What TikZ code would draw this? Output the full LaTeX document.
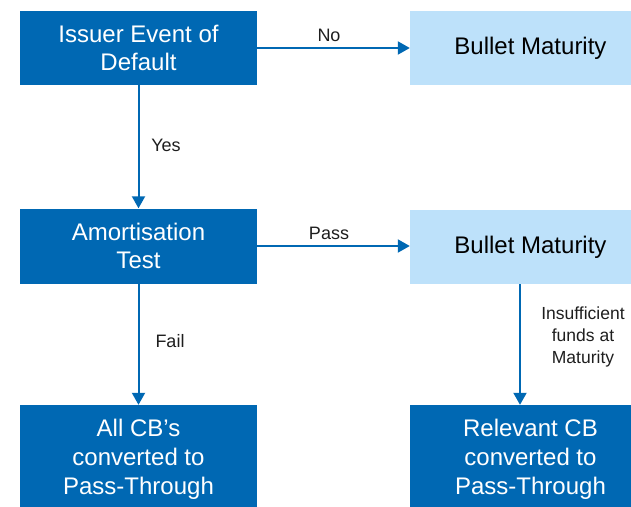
\documentclass[tikz,border=0pt]{standalone}
\usepackage{fontspec}
\setmainfont{Liberation Sans}
\usetikzlibrary{arrows.meta}
\definecolor{darkbox}{HTML}{0068B3}
\definecolor{lightbox}{HTML}{BDE1FA}
\definecolor{labeltext}{HTML}{1E1E1E}
\begin{document}
\begin{tikzpicture}[x=1pt,y=-1pt,
  boxtext/.style={align=center,font=\fontsize{24}{28}\selectfont,inner sep=0pt,draw=none},
  darkstep/.style={boxtext,fill=darkbox,text=white,minimum width=237pt},
  lightstep/.style={boxtext,fill=lightbox,text=black,minimum width=241pt},
  darkright/.style={boxtext,fill=darkbox,text=white,minimum width=241pt},
  flow/.style={draw=darkbox,line width=2pt,-{Triangle[width=13pt,length=12pt]}},
  flowlabel/.style={text=labeltext,font=\fontsize{18}{22}\selectfont,align=center,inner sep=0pt}]
\useasboundingbox (0,0) rectangle (631,506);
% first row
\node[darkstep,minimum height=74pt] (ieod) at (138.5,48) {Issuer Event of\\Default};
\node[lightstep,minimum height=74pt] (bm1) at (530.5,48) {Bullet Maturity};
% second row
\node[darkstep,minimum height=75pt] (amort) at (138.5,246) {Amortisation\\Test};
\node[lightstep,minimum height=74pt] (bm2) at (530.5,247) {Bullet Maturity};
% third row (runs past the lower edge)
\node[darkstep,minimum height=108pt,font=\fontsize{24}{29}\selectfont] (allcb) at (138.5,459) {All CB’s\\converted to\\Pass-Through};
\node[darkright,minimum height=108pt,font=\fontsize{24}{29}\selectfont] (relcb) at (530.5,459) {Relevant CB\\converted to\\Pass-Through};
% connectors
\draw[flow] (ieod) -- (bm1);
\draw[flow] (ieod) -- (amort);
\draw[flow] (amort.east) -- (amort.east -| bm2.west);
\draw[flow] (amort) -- (allcb);
\draw[flow] ([xshift=-10.5pt]bm2.south) -- ([xshift=-10.5pt]relcb.north);
% labels
\node[flowlabel] (lno) at (329,35) {No};
\node[flowlabel] (lyes) at (166,145) {Yes};
\node[flowlabel] (lpass) at (329,233) {Pass};
\node[flowlabel] (lfail) at (170,341) {Fail};
\node[flowlabel,font=\fontsize{17.5}{22}\selectfont] (lfunds) at (583,337) {Insufficient\\funds at\\Maturity};
\end{tikzpicture}
\end{document}
